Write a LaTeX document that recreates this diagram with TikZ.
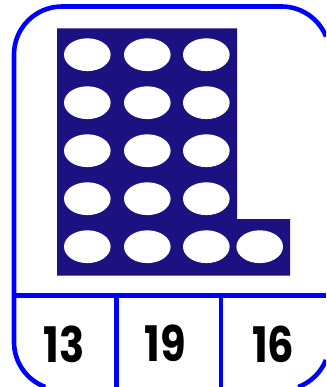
\documentclass[tikz,border=0pt]{standalone}
\usepackage{fontspec}
\setmainfont{Poppins}
\definecolor{navy}{RGB}{27,17,128}
\definecolor{frameblue}{RGB}{0,0,255}
\tikzset{
  dot/.style={fill=white,draw=none},
  frameline/.style={draw=frameblue,line width=4.6pt},
  numlabel/.style={font=\fontsize{49}{49}\selectfont\bfseries,text=black,inner sep=0pt,xscale=0.85}
}
\begin{document}
\begin{tikzpicture}[x=1pt,y=-1pt]
\useasboundingbox (0,0) rectangle (326,387);
\begin{scope}
\clip (0,0) rectangle (326,387);
% navy block
\fill[navy] (57,28.5) -- (237,28.5) -- (237,219) -- (290,219) -- (290,275.5) -- (57,275.5) -- cycle;
% dots
\foreach \i in {0,...,4}{
  \foreach \x in {87.3,147.3,206.3}{
    \fill[dot] (\x,54.7+48*\i) ellipse [x radius=23.3, y radius=16.4];
  }
}
\fill[dot] (259.7,246.7) ellipse [x radius=23.3, y radius=16.4];
% frame (visible part only)
\coordinate (trs) at (326,36.5);
\coordinate (bre) at (298.2,387);
\draw[frameline] (trs) arc[start angle=-22, end angle=-90, radius=48]
  -- (62,6.5) arc[start angle=-90, end angle=-180, radius=48]
  -- (14,342) arc[start angle=180, end angle=110.4, radius=48];
\draw[frameline] (bre) arc[start angle=69.6, end angle=22, radius=48];
\coordinate (hl) at (14,295.3);
\coordinate (hr) at (326,295.3);
\coordinate (v1t) at (116.3,295.3);
\coordinate (v1b) at (116.3,387);
\coordinate (v2t) at (221,295.3);
\coordinate (v2b) at (221,387);
\draw[frameline] (hl) -- (hr);
\draw[frameline] (v1t) -- (v1b);
\draw[frameline] (v2t) -- (v2b);
\node[numlabel] (n1) at (64,344) {13};
\node[numlabel] (n2) at (165,343.5) {19};
\node[numlabel] (n3) at (273.3,344) {16};
\end{scope}
\end{tikzpicture}
\end{document}
